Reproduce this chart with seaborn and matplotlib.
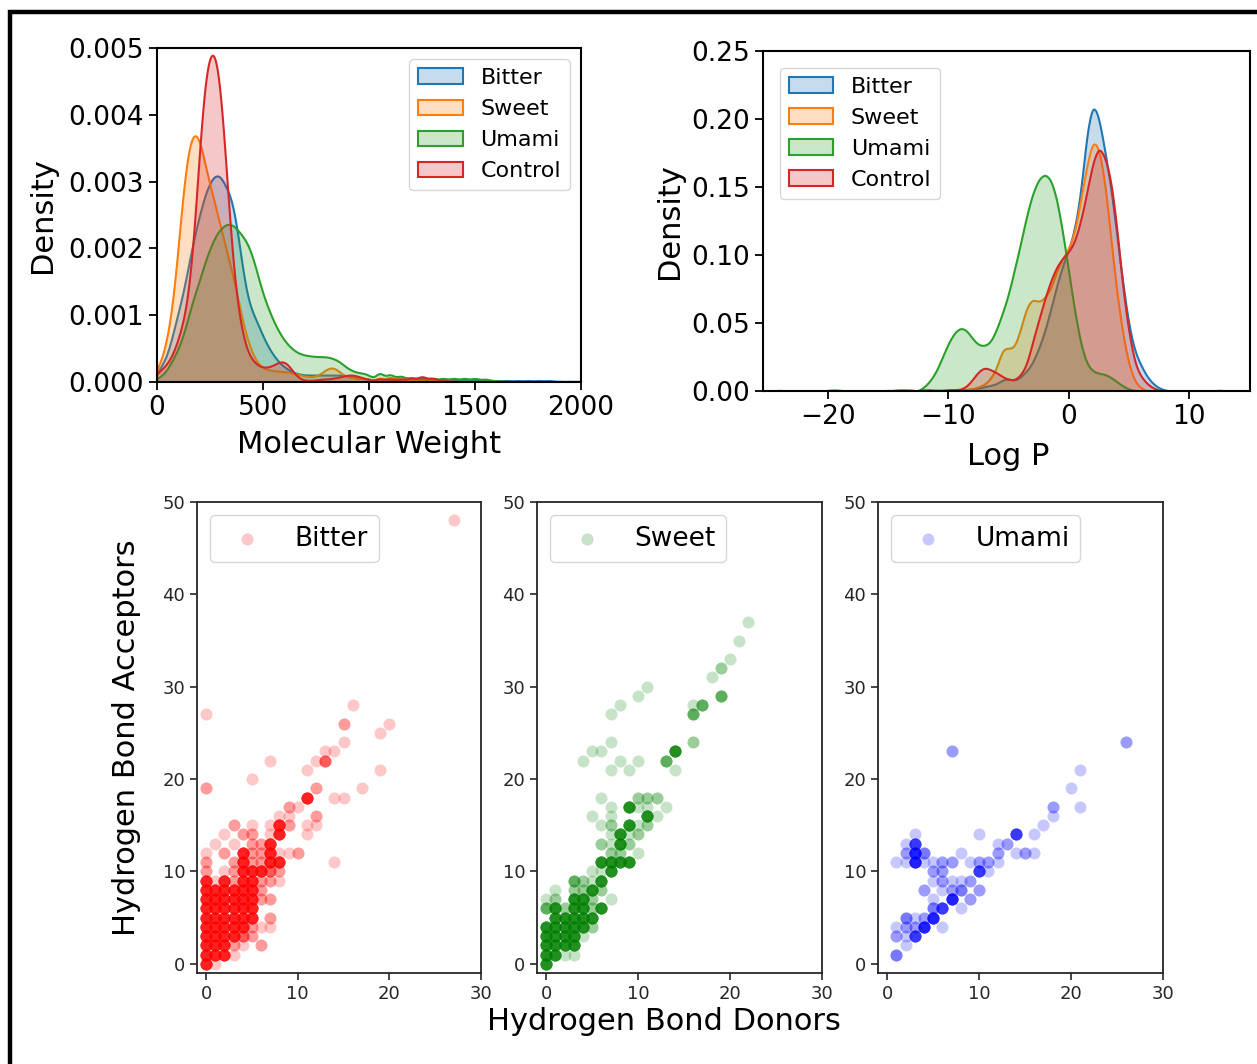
import numpy as np
import matplotlib
matplotlib.use("Agg")
import matplotlib.pyplot as plt
from matplotlib.patches import Rectangle
from matplotlib.ticker import FormatStrFormatter
import seaborn as sns

# ---- density readings (molecular weight) ----
tastes = ["Bitter", "Sweet", "Umami", "Control"]

mw_grid = [0, 25, 50, 75, 100, 125, 150, 175, 200, 225, 250, 275, 300, 325, 350,
           375, 400, 425, 450, 475, 500, 525, 550, 575, 600, 625, 650, 675, 700,
           725, 750, 775, 800, 825, 850, 875, 900, 925, 950, 975, 1000]
mw_tail = [1050, 1100, 1150, 1200, 1250, 1300, 1350, 1400, 1450, 1500, 1550,
           1600, 1650, 1700, 1750, 1800, 1850, 1900, 1950, 2000]

bitter_mw = [0.00013, 0.00025, 0.00038, 0.0007, 0.001, 0.0013, 0.0017, 0.0021, 0.0024,
             0.0027, 0.0029, 0.003, 0.003, 0.0028, 0.0027, 0.0023, 0.0017, 0.0012,
             0.001, 0.00085, 0.00065, 0.0005, 0.00038, 0.00028, 0.00022, 0.00016,
             0.00013, 0.00011, 0.0001, 0.0001, 0.0001, 0.0001, 0.0001, 0.0001, 0.0001,
             0.0001, 0.00009, 0.00007, 0.00005, 0.00005, 0.00005]
bitter_mw_tail = [0.00004, 0.00004, 0.00003, 0.00003, 0.00003, 0.00002, 0.00002, 0.00002,
                  0.00002, 0.00002, 0.00002, 0.00002, 0.00002, 0.00002, 0.00002, 0.00002,
                  0.00002, 0.00001, 0.00001, 0.00001]

sweet_mw = [0.00018, 0.00033, 0.00063, 0.0011, 0.0019, 0.0028, 0.0034, 0.0036, 0.0035,
            0.0031, 0.0028, 0.0025, 0.0022, 0.0019, 0.0016, 0.0013, 0.0009, 0.0006,
            0.0004, 0.00025, 0.0002, 0.00017, 0.00016, 0.00015, 0.00015, 0.00014,
            0.00012, 0.0001, 0.00008, 0.00007, 0.00008, 0.00012, 0.00019, 0.00022,
            0.00018, 0.0001, 0.00007, 0.00006, 0.00006, 0.00005, 0.00005]
sweet_mw_tail = [0.00005, 0.00006, 0.00004, 0.00003, 0.00003, 0.00002, 0.00001, 0, 0, 0,
                 0, 0, 0, 0, 0, 0, 0, 0, 0, 0]

umami_mw = [0.00005, 0.0001, 0.00018, 0.00035, 0.00048, 0.0007, 0.001, 0.0013, 0.0015,
            0.0018, 0.002, 0.0022, 0.0023, 0.00237, 0.00238, 0.0023, 0.0022, 0.0021,
            0.0019, 0.0016, 0.0013, 0.0011, 0.0009, 0.00075, 0.00062, 0.00053, 0.00046,
            0.00042, 0.0004, 0.00039, 0.00038, 0.00038, 0.00038, 0.00036, 0.00033,
            0.00027, 0.0002, 0.00016, 0.00014, 0.00013, 0.00012]
umami_mw_tail = [0.00012, 0.0001, 0.00008, 0.00006, 0.00005, 0.00005, 0.00005, 0.00005,
                 0.00005, 0.00005, 0.00004, 0.00002, 0.00001, 0, 0, 0, 0, 0, 0, 0]

control_mw = [0.00013, 0.00018, 0.00025, 0.00038, 0.00058, 0.00083, 0.0012, 0.002, 0.0032,
              0.0042, 0.0046, 0.0046, 0.0041, 0.003, 0.0019, 0.0011, 0.0007, 0.0004, 0.0003,
              0.00022, 0.0002, 0.0002, 0.00023, 0.00028, 0.0003, 0.00022, 0.0001, 0.00004,
              0.00002, 0.00002, 0.00003, 0.00004, 0.00004, 0.00005, 0.00006, 0.00008,
              0.0001, 0.0001, 0.00008, 0.00005, 0.00004]
control_mw_tail = [0.00004, 0.00004, 0.00004, 0.00005, 0.00007, 0.00005, 0.00002, 0.00001,
                   0, 0, 0, 0, 0, 0, 0, 0, 0, 0, 0, 0]

# ---- density readings (log P) ----
logp_grid = [-12, -11.5, -11, -10.5, -10, -9.5, -9, -8.5, -8, -7.5, -7, -6.5, -6, -5.5,
             -5, -4.5, -4, -3.5, -3, -2.5, -2, -1.5, -1, -0.5, 0, 0.5, 1, 1.5, 2, 2.5,
             3, 3.5, 4, 4.5, 5, 5.5, 6, 6.5, 7, 7.5, 8]

bitter_logp = [0, 0, 0, 0, 0.0005, 0.0007, 0.001, 0.001, 0.0015, 0.002, 0.003, 0.004,
               0.005, 0.008, 0.009, 0.007, 0.010, 0.014, 0.020, 0.030, 0.042, 0.058,
               0.075, 0.090, 0.100, 0.115, 0.140, 0.185, 0.207, 0.195, 0.170, 0.145,
               0.110, 0.075, 0.045, 0.027, 0.018, 0.010, 0.005, 0.002, 0.0005]
sweet_logp = [0, 0, 0, 0, 0, 0.0003, 0.0005, 0.001, 0.0015, 0.003, 0.0045, 0.009, 0.016,
              0.032, 0.031, 0.031, 0.045, 0.062, 0.068, 0.064, 0.068, 0.074, 0.088,
              0.097, 0.104, 0.115, 0.140, 0.165, 0.185, 0.178, 0.153, 0.110, 0.070,
              0.040, 0.018, 0.006, 0.002, 0, 0, 0, 0]
umami_logp = [0.003, 0.008, 0.015, 0.026, 0.037, 0.045, 0.049, 0.047, 0.040, 0.035,
              0.0345, 0.037, 0.047, 0.060, 0.074, 0.094, 0.113, 0.135, 0.152, 0.163,
              0.167, 0.163, 0.148, 0.121, 0.091, 0.060, 0.035, 0.020, 0.015, 0.0135,
              0.013, 0.0105, 0.007, 0.0037, 0.0012, 0.0003, 0, 0, 0, 0, 0]
control_logp = [0.001, 0.0008, 0.0005, 0.0005, 0.001, 0.001, 0.001, 0.003, 0.008, 0.014,
                0.017, 0.015, 0.013, 0.010, 0.008, 0.0076, 0.011, 0.018, 0.035, 0.050,
                0.065, 0.078, 0.088, 0.094, 0.098, 0.105, 0.120, 0.140, 0.162, 0.174,
                0.165, 0.150, 0.115, 0.070, 0.040, 0.018, 0.010, 0.005, 0.002, 0.0005, 0]

# isolated far values (log P, reading)
bitter_logp_out = [(12.5, 0.0008)]
sweet_logp_out = [(-24, 0.0008), (-15, 0.0008)]
umami_logp_out = [(-20, 0.0006), (-19.5, 0.0009), (-19, 0.0006)]
control_logp_out = [(-14.5, 0.0006), (-14, 0.0008), (-13.5, 0.0008), (-13, 0.0006)]

# ---- hydrogen bond scatter: (donors, acceptors, count) ----
bitter_hb = [
    (0, 0, 8), (1, 0, 1),
    (0, 1, 8), (1, 1, 8), (2, 1, 8), (3, 1, 1),
    (0, 2, 8), (1, 2, 8), (2, 2, 8), (3, 2, 2), (4, 2, 1), (6, 2, 2),
    (0, 3, 8), (1, 3, 8), (2, 3, 8), (3, 3, 8), (4, 3, 4), (5, 3, 2),
    (0, 4, 8), (1, 4, 8), (2, 4, 8), (3, 4, 8), (4, 4, 8), (5, 4, 2), (6, 4, 1), (7, 4, 1),
    (0, 5, 8), (1, 5, 8), (2, 5, 8), (3, 5, 8), (4, 5, 8), (5, 5, 8), (7, 5, 2),
    (0, 6, 8), (1, 6, 8), (2, 6, 8), (3, 6, 8), (4, 6, 8), (5, 6, 8),
    (0, 7, 8), (1, 7, 8), (2, 7, 8), (3, 7, 8), (4, 7, 8), (5, 7, 8), (6, 7, 2), (7, 7, 2),
    (0, 8, 8), (1, 8, 8), (2, 8, 8), (3, 8, 8), (4, 8, 8), (5, 8, 8), (6, 8, 2),
    (0, 9, 8), (1, 9, 1), (2, 9, 8), (3, 9, 2), (4, 9, 8), (5, 9, 8), (6, 9, 2), (7, 9, 2), (8, 9, 1),
    (0, 10, 2), (2, 10, 1), (3, 10, 2), (4, 10, 8), (5, 10, 8), (6, 10, 8), (7, 10, 4), (8, 10, 2),
    (0, 11, 2), (3, 11, 2), (4, 11, 8), (5, 11, 2), (6, 11, 2), (7, 11, 8), (8, 11, 8), (14, 11, 1),
    (0, 12, 1), (2, 12, 2), (4, 12, 8), (5, 12, 2), (6, 12, 2), (7, 12, 8), (8, 12, 1), (9, 12, 1), (10, 12, 2),
    (1, 13, 1), (3, 13, 1), (5, 13, 2), (6, 13, 2), (7, 13, 8),
    (2, 14, 1), (4, 14, 2), (5, 14, 2), (7, 14, 1), (8, 14, 8), (11, 14, 1),
    (3, 15, 2), (5, 15, 1), (7, 15, 1), (8, 15, 8), (9, 15, 2), (11, 15, 1), (12, 15, 1),
    (8, 16, 1), (9, 16, 1), (12, 16, 2),
    (9, 17, 2), (10, 17, 1),
    (11, 18, 8), (14, 18, 1), (15, 18, 1),
    (0, 19, 2), (12, 19, 2), (17, 19, 1),
    (5, 20, 1),
    (11, 21, 1), (19, 21, 1),
    (7, 22, 1), (12, 22, 1), (13, 22, 4),
    (13, 23, 1), (14, 23, 1),
    (15, 24, 1), (19, 25, 1), (15, 26, 2), (20, 26, 1),
    (0, 27, 1), (16, 28, 1), (27, 48, 1),
]

sweet_hb = [
    (0, 0, 8),
    (0, 1, 8), (1, 1, 8), (2, 1, 1), (3, 1, 1),
    (0, 2, 8), (1, 2, 8), (2, 2, 8), (3, 2, 8),
    (0, 3, 8), (1, 3, 8), (2, 3, 8), (3, 3, 8), (4, 3, 1),
    (0, 4, 8), (1, 4, 8), (2, 4, 8), (3, 4, 8), (4, 4, 8), (5, 4, 2),
    (1, 5, 8), (2, 5, 8), (3, 5, 8), (4, 5, 8), (5, 5, 8),
    (0, 6, 4), (1, 6, 8), (2, 6, 2), (3, 6, 8), (4, 6, 8), (5, 6, 2), (6, 6, 8),
    (0, 7, 1), (1, 7, 2), (3, 7, 8), (4, 7, 8), (5, 7, 2), (7, 7, 1),
    (1, 8, 1), (3, 8, 2), (4, 8, 2), (5, 8, 8), (6, 8, 2),
    (3, 9, 4), (4, 9, 2), (5, 9, 1), (6, 9, 8),
    (5, 10, 1), (6, 10, 1), (7, 10, 8),
    (6, 11, 8), (7, 11, 8), (8, 11, 8), (9, 11, 8),
    (7, 12, 2), (8, 12, 2), (10, 12, 1),
    (6, 13, 2), (7, 13, 1), (8, 13, 8), (9, 13, 2),
    (7, 14, 1), (8, 14, 8), (9, 14, 1), (10, 14, 2),
    (6, 15, 1), (7, 15, 2), (9, 15, 8), (10, 15, 1), (11, 15, 2),
    (5, 16, 1), (7, 16, 1), (11, 16, 8), (12, 16, 1),
    (7, 17, 1), (9, 17, 8), (10, 17, 1), (11, 17, 1), (13, 17, 1),
    (6, 18, 1), (10, 18, 2), (11, 18, 2), (12, 18, 2),
    (7, 21, 1), (9, 21, 1), (14, 21, 1),
    (4, 22, 1), (8, 22, 1), (10, 22, 1), (13, 22, 4),
    (5, 23, 1), (6, 23, 1), (14, 23, 8),
    (7, 24, 1), (16, 24, 2),
    (7, 27, 1), (16, 27, 4),
    (8, 28, 1), (16, 28, 1), (17, 28, 4),
    (10, 29, 1), (19, 29, 4),
    (11, 30, 1), (18, 31, 1), (19, 32, 2), (20, 33, 1), (21, 35, 1), (22, 37, 1),
]

umami_hb = [
    (1, 1, 3), (2, 2, 1),
    (1, 3, 2), (2, 3, 1), (3, 3, 6),
    (1, 4, 1), (2, 4, 2), (3, 4, 2), (4, 4, 8), (6, 4, 1),
    (2, 5, 3), (3, 5, 1), (4, 5, 2), (5, 5, 8),
    (5, 6, 3), (6, 6, 6), (8, 6, 1),
    (5, 7, 1), (7, 7, 8), (9, 7, 2),
    (4, 8, 2), (6, 8, 1), (7, 8, 2), (8, 8, 3), (10, 8, 2),
    (5, 9, 1), (6, 9, 2), (7, 9, 1), (8, 9, 1), (9, 9, 2),
    (5, 10, 2), (6, 10, 2), (10, 10, 6), (11, 10, 1),
    (1, 11, 1), (2, 11, 1), (3, 11, 8), (4, 11, 1), (5, 11, 1), (6, 11, 2), (7, 11, 2),
    (9, 11, 1), (10, 11, 2), (11, 11, 2), (12, 11, 1),
    (2, 12, 2), (3, 12, 8), (4, 12, 3), (8, 12, 1), (12, 12, 2), (14, 12, 1), (15, 12, 2), (16, 12, 1),
    (2, 13, 1), (3, 13, 6), (12, 13, 1), (13, 13, 2),
    (3, 14, 1), (10, 14, 1), (14, 14, 6), (16, 14, 1),
    (17, 15, 1), (18, 16, 1), (18, 17, 2), (21, 17, 1),
    (20, 19, 1), (21, 21, 1), (7, 23, 2), (26, 24, 2),
]


def expand(points):
    pts = np.array(points)
    return np.repeat(pts[:, 0], pts[:, 2]), np.repeat(pts[:, 1], pts[:, 2])


def bw_factor(x, w, sigma):
    m = np.average(x, weights=w)
    sd = np.sqrt(np.average((x - m) ** 2, weights=w))
    return sigma / sd


fig = plt.figure(figsize=(12.57, 10.64), dpi=100)
W, H = 1257, 1064


def axes_px(left, top, right, bottom):
    return fig.add_axes([left / W, 1 - bottom / H, (right - left) / W, (bottom - top) / H])


palette = sns.color_palette("tab10", 4)

# ---- top left: molecular weight ----
ax1 = axes_px(157, 48, 581, 382)
mw_sets = [(bitter_mw, bitter_mw_tail), (sweet_mw, sweet_mw_tail),
           (umami_mw, umami_mw_tail), (control_mw, control_mw_tail)]
for name, col, (main, tail) in zip(tastes, palette, mw_sets):
    x = np.array(mw_grid + mw_tail, dtype=float)
    w = np.concatenate([np.array(main) * 25, np.array(tail) * 50])
    keep = w > 0
    sns.kdeplot(x=x[keep], weights=w[keep], bw_method=bw_factor(x[keep], w[keep], 20),
                fill=True, color=col, label=name, gridsize=1500, linewidth=1.5, ax=ax1)
ax1.set_xlim(0, 2000)
ax1.set_ylim(0, 0.005)
ax1.yaxis.set_major_formatter(FormatStrFormatter("%.3f"))
ax1.set_xticks([0, 500, 1000, 1500, 2000])
ax1.set_xlabel("Molecular Weight", fontsize=22)
ax1.set_ylabel("Density", fontsize=22)
ax1.legend(loc="upper right", fontsize=16)

# ---- top right: log P ----
ax2 = axes_px(763, 51, 1250, 391)
lp_sets = [(bitter_logp, bitter_logp_out), (sweet_logp, sweet_logp_out),
           (umami_logp, umami_logp_out), (control_logp, control_logp_out)]
for name, col, (main, out) in zip(tastes, palette, lp_sets):
    x = np.array(logp_grid + [p[0] for p in out], dtype=float)
    w = np.array(list(main) + [p[1] for p in out], dtype=float)
    keep = w > 0
    sns.kdeplot(x=x[keep], weights=w[keep], bw_method=bw_factor(x[keep], w[keep], 0.32),
                fill=True, color=col, label=name, gridsize=1500, linewidth=1.5, ax=ax2)
ax2.set_xlim(-25.4, 15.05)
ax2.set_ylim(0, 0.25)
ax2.set_xticks([-20, -10, 0, 10])
ax2.set_xlabel("Log P", fontsize=22)
ax2.set_ylabel("Density", fontsize=22)
ax2.legend(loc="upper left", fontsize=16, borderaxespad=0.75)

for ax in (ax1, ax2):
    ax.tick_params(labelsize=19, length=6, width=1.3)
    for s in ax.spines.values():
        s.set_linewidth(1.5)
ax1.yaxis.set_label_coords(-0.236, 0.5)
ax1.xaxis.set_label_coords(0.5, -0.145)
ax2.yaxis.set_label_coords(-0.162, 0.5)
ax2.xaxis.set_label_coords(0.503, -0.15)

# ---- bottom: hydrogen bonds ----
panels = [("Bitter", "red", bitter_hb, 197, 481),
          ("Sweet", "green", sweet_hb, 537, 822),
          ("Umami", "blue", umami_hb, 878, 1163)]
bottom_axes = []
for name, col, pts, left, right in panels:
    ax = axes_px(left, 502, right, 973)
    dx, ay = expand(pts)
    sns.scatterplot(x=dx, y=ay, color=col, alpha=0.22, s=75, linewidth=0,
                    label=name, ax=ax)
    ax.set_xlim(-1, 30)
    ax.set_ylim(-1, 50)
    ax.set_xticks([0, 10, 20, 30])
    ax.set_yticks([0, 10, 20, 30, 40, 50])
    ax.tick_params(labelsize=13, length=5, width=1.2, colors="0.15")
    for s in ax.spines.values():
        s.set_linewidth(1.3)
        s.set_color("0.15")
    ax.legend(loc="upper left", fontsize=19)
    bottom_axes.append(ax)

bottom_axes[0].set_ylabel("Hydrogen Bond Acceptors", fontsize=22)
bottom_axes[0].yaxis.set_label_coords(-0.197, 0.5)
fig.text(664 / W, 1 - 1022 / H, "Hydrogen Bond Donors", fontsize=22,
         ha="center", va="center")

# frame around the figure (only top and left edges visible)
fig.add_artist(Rectangle((10 / W, -0.2), 1.5, 1 - 12 / H + 0.2,
                         transform=fig.transFigure, fill=False,
                         edgecolor="black", linewidth=3.2, clip_on=False))

fig.savefig("out.png", dpi=100, facecolor="white")
